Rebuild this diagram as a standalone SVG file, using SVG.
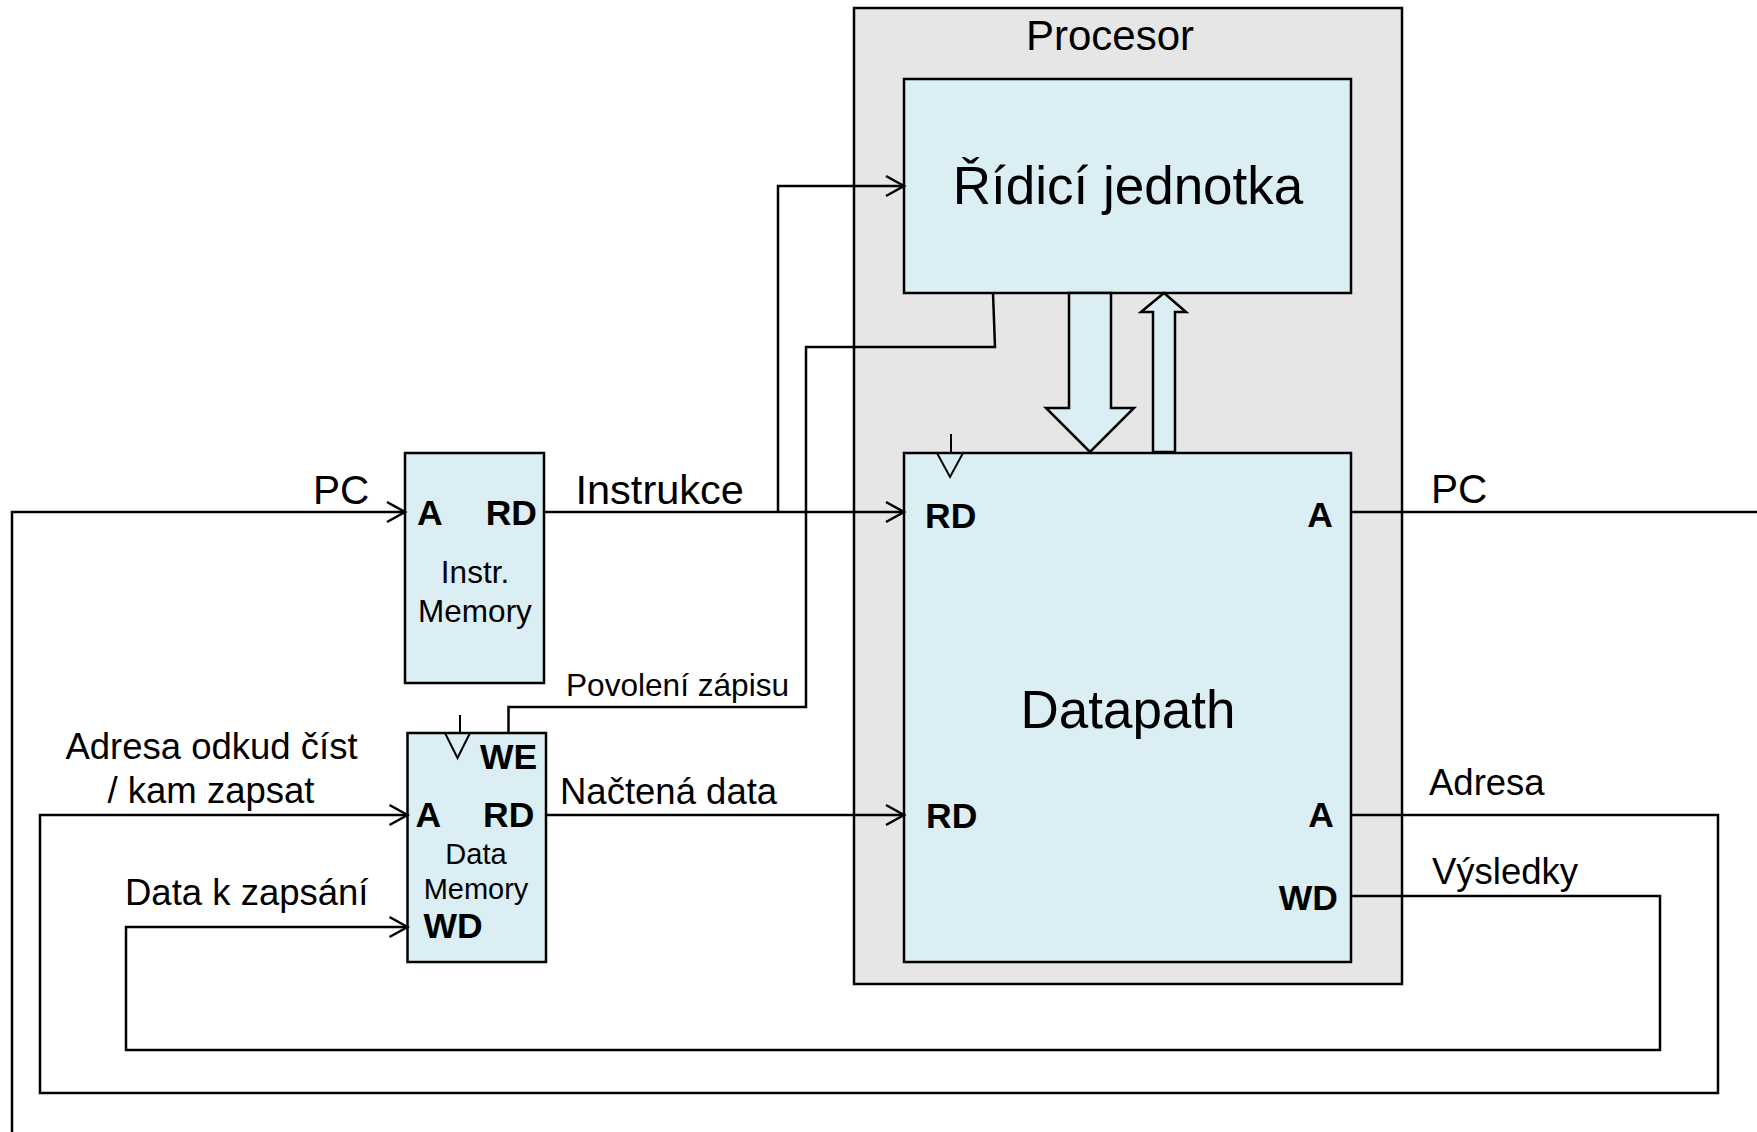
<svg xmlns="http://www.w3.org/2000/svg" width="1757" height="1132" viewBox="0 0 1757 1132">
<style>
.box{fill:#DAEEF3;stroke:#000;stroke-width:2.5}
.proc{fill:#E6E6E6;stroke:#000;stroke-width:2.5}
.wire{fill:none;stroke:#000;stroke-width:2.5}
.clk{fill:none;stroke:#000;stroke-width:2}
.t{font-family:"Liberation Sans",Arial,sans-serif;fill:#000}
.lbl{font-size:36.5px}
.port{font-size:35.5px;font-weight:bold}
.big{font-size:53px}
.mid{text-anchor:middle}
.end{text-anchor:end}
</style>
<defs>
<marker id="arr" markerUnits="userSpaceOnUse" markerWidth="24" markerHeight="24" refX="20" refY="12" orient="auto" viewBox="0 0 24 24">
<path d="M2,2 L20,12 L2,22" fill="none" stroke="#000" stroke-width="2.5"/>
</marker>
</defs>
<rect width="1757" height="1132" fill="#fff"/>

<g id="procesor">
<rect class="proc" x="854" y="8" width="548" height="976"/>
<text class="t mid" x="1110" y="50" font-size="42">Procesor</text>
</g>

<g id="ridici-jednotka">
<rect class="box" x="904" y="79" width="447" height="214"/>
<text class="t big mid" x="1128" y="204">Řídicí jednotka</text>
</g>

<g id="datapath">
<rect class="box" x="904" y="453" width="447" height="509"/>
<line class="clk" x1="951" y1="434" x2="951" y2="453"/>
<polyline class="clk" points="937,453 950,477 963,453"/>
<text class="t big mid" x="1128" y="728">Datapath</text>
<text class="t port" x="925" y="528">RD</text>
<text class="t port" x="926" y="828">RD</text>
<text class="t port end" x="1333" y="527">A</text>
<text class="t port end" x="1334" y="827">A</text>
<text class="t port end" x="1338" y="910">WD</text>
</g>

<g id="instr-memory">
<rect class="box" x="405" y="453" width="139" height="230"/>
<text class="t port" x="417" y="525">A</text>
<text class="t port end" x="537" y="525">RD</text>
<text class="t mid" x="475" y="583" font-size="31.5">Instr.</text>
<text class="t mid" x="475" y="622" font-size="31.5">Memory</text>
</g>

<g id="data-memory">
<rect class="box" x="407.5" y="733" width="138.5" height="229"/>
<line class="clk" x1="460" y1="715" x2="460" y2="733"/>
<polyline class="clk" points="445,733 457.5,758 470,733"/>
<text class="t port" x="480" y="769">WE</text>
<text class="t port" x="415.5" y="827">A</text>
<text class="t port" x="483" y="827">RD</text>
<text class="t mid" x="476" y="864" font-size="29">Data</text>
<text class="t mid" x="476" y="899" font-size="29">Memory</text>
<text class="t port" x="423.5" y="938">WD</text>
</g>

<g id="bus-arrows">
<polygon class="box" points="1069,293 1111,293 1111,408 1134,408 1090,452 1046,408 1069,408"/>
<polygon class="box" points="1153,452 1175,452 1175,312 1186,312 1164,293 1141,312 1153,312"/>
</g>

<g id="connectors">
<path class="wire" d="M12,1132 V512 H405" marker-end="url(#arr)"/>
<path class="wire" d="M1351,512 H1757"/>
<path class="wire" d="M544,512 H904" marker-end="url(#arr)"/>
<path class="wire" d="M778,512 V186 H904" marker-end="url(#arr)"/>
<path class="wire" d="M993,293 L995,347 H806 V707 H508.5 V733"/>
<path class="wire" d="M546,815 H904" marker-end="url(#arr)"/>
<path class="wire" d="M1351,815 H1718 V1093 H40 V815 H407.5" marker-end="url(#arr)"/>
<path class="wire" d="M1351,896 H1660 V1050 H126 V927 H407.5" marker-end="url(#arr)"/>
</g>

<g id="labels">
<text class="t" x="313" y="504" font-size="40.5">PC</text>
<text class="t" x="575.5" y="504" font-size="41.5">Instrukce</text>
<text class="t" x="566" y="696" font-size="31.6">Povolení zápisu</text>
<text class="t lbl mid" x="211.5" y="759">Adresa odkud číst</text>
<text class="t lbl mid" x="211" y="803">/ kam zapsat</text>
<text class="t lbl" x="125" y="905">Data k zapsání</text>
<text class="t lbl" x="560" y="804">Načtená data</text>
<text class="t" x="1431" y="503" font-size="40.5">PC</text>
<text class="t lbl" x="1429" y="795">Adresa</text>
<text class="t lbl" x="1432" y="884">Výsledky</text>
</g>
</svg>
